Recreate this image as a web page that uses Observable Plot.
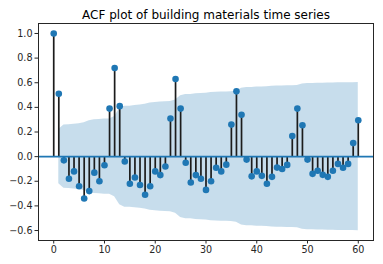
<!DOCTYPE html>
<html>
<head>
<meta charset="utf-8">
<script src="https://cdn.jsdelivr.net/npm/d3@7"></script>
<script src="https://cdn.jsdelivr.net/npm/@observablehq/plot@0.6"></script>
<style>
  html, body { margin: 0; padding: 0; background: #fff; }
  #chart svg { display: block; }
</style>
</head>
<body>
<div id="chart"></div>
<script>
const title = "ACF plot of building materials time series";

const lags = d3.range(0, 61);

const acfValues = [
  1.0, 0.51, -0.03, -0.18, -0.12, -0.24, -0.34, -0.28, -0.13, -0.20,
  -0.07, 0.39, 0.72, 0.41, -0.04, -0.22, -0.17, -0.23, -0.31, -0.24,
  -0.12, -0.15, -0.08, 0.31, 0.63, 0.39, -0.05, -0.21, -0.15, -0.18,
  -0.27, -0.20, -0.09, -0.12, -0.065, 0.26, 0.53, 0.34, -0.024, -0.16,
  -0.12, -0.156, -0.22, -0.164, -0.089, -0.10, -0.067, 0.167, 0.39, 0.255,
  -0.024, -0.14, -0.115, -0.148, -0.164, -0.115, -0.059, -0.09, -0.059, 0.11,
  0.296
];

// half-width of the confidence band, lags 1..60
const bandLags = d3.range(1, 61);
const bandHalfWidth = [
  0.22, 0.257, 0.258, 0.263, 0.266, 0.275, 0.292, 0.299, 0.301, 0.305,
  0.306, 0.325, 0.39, 0.41, 0.41, 0.415, 0.42, 0.425, 0.435, 0.44,
  0.443, 0.446, 0.447, 0.46, 0.495, 0.505, 0.505, 0.51, 0.512, 0.515,
  0.52, 0.523, 0.524, 0.525, 0.526, 0.533, 0.555, 0.562, 0.562, 0.565,
  0.566, 0.568, 0.571, 0.573, 0.574, 0.575, 0.575, 0.578, 0.59, 0.594,
  0.594, 0.595, 0.596, 0.597, 0.598, 0.599, 0.599, 0.6, 0.6, 0.601
];

const xTicks = [0, 10, 20, 30, 40, 50, 60];
const yTicks = [-0.6, -0.4, -0.2, 0.0, 0.2, 0.4, 0.6, 0.8, 1.0];

const acf = lags.map((lag, i) => ({lag, value: acfValues[i]}));
const band = bandLags.map((lag, i) => ({lag, hw: bandHalfWidth[i]}));

const blue = "#1f77b4";
const ink = "#262626";
const fmtY = d => d.toFixed(1).replace("-", "\u2212");

const chart = Plot.plot({
  width: 383,
  height: 264,
  marginLeft: 38,
  marginRight: 10,
  marginTop: 23,
  marginBottom: 24,
  style: {fontFamily: "'DejaVu Sans', sans-serif", fontSize: "9.6px", color: ink, background: "#fff"},
  x: {domain: [-3, 63], label: null},
  y: {domain: [-0.681, 1.081], label: null},
  marks: [
    Plot.areaY(band, {x: "lag", y1: d => -d.hw, y2: d => d.hw, fill: blue, fillOpacity: 0.25, curve: "linear"}),
    Plot.ruleX(acf, {x: "lag", y1: 0, y2: "value", stroke: "#1c1c1c", strokeWidth: 1.7}),
    Plot.ruleY([0], {stroke: blue, strokeWidth: 1.9}),
    Plot.dot(acf, {x: "lag", y: "value", r: 3.3, fill: blue, stroke: "none"}),
    Plot.frame({stroke: ink, strokeWidth: 1}),
    Plot.axisX({ticks: xTicks, tickSize: 3.5, tickPadding: 2.5, tickFormat: d => String(d), label: null, fontSize: 9.6}),
    Plot.axisY({ticks: yTicks, tickSize: 3.5, tickPadding: 2.5, label: null, fontSize: 9.6, tickFormat: fmtY}),
    Plot.text([title], {frameAnchor: "top", dy: -5, lineAnchor: "bottom", fontSize: 12, fill: "#000"})
  ]
});

document.getElementById("chart").appendChild(chart);
</script>
</body>
</html>
